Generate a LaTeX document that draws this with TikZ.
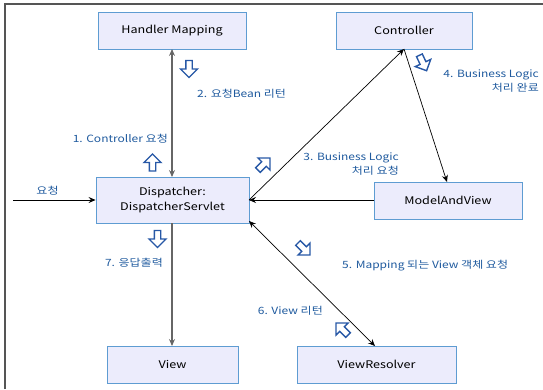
\documentclass[tikz,border=0pt]{standalone}
\usepackage{fontspec}
\setmainfont[FakeStretch=1.2]{Noto Sans CJK KR}
\usetikzlibrary{arrows.meta}
\definecolor{boxfill}{HTML}{ECECFC}
\definecolor{boxline}{HTML}{5E9CD2}
\definecolor{labelblue}{HTML}{1F5A9E}
\definecolor{hollowblue}{HTML}{2758A6}
\definecolor{framegray}{HTML}{555555}
\tikzset{
  compbox/.style={draw=boxline, fill=boxfill, line width=0.9pt, inner sep=0pt,
    font=\fontsize{10.5}{15}\selectfont, align=center},
  steplabel/.style={text=labelblue, inner sep=0pt, font=\fontsize{10}{14}\selectfont},
  flow/.style={-{Stealth[length=7pt,width=6pt,inset=2.5pt]}, line width=0.7pt, black},
  mainflow/.style={flow, draw=black!60, line width=1.1pt},
  hollow/.pic={
    \draw[hollowblue, line width=1.4pt, fill=white, line join=miter]
      (-3.2,8.5) -- (3.2,8.5) -- (3.2,0) -- (8.5,0) -- (0,-8.5) -- (-8.5,0) -- (-3.2,0) -- cycle;
  }
}
\begin{document}
\begin{tikzpicture}[x=1pt,y=-1pt]
\useasboundingbox (0,0) rectangle (543,389);
% outer frame (top and left edges)
\draw[framegray, line width=1.5pt] (5,389) -- (5,4) -- (543,4);

% components
\node[compbox, minimum width=148pt, minimum height=37pt] (hm) at (172,30.5) {Handler Mapping};
\node[compbox, minimum width=136pt, minimum height=37pt] (ctrl) at (404,30.5) {Controller};
\node[compbox, minimum width=153pt, minimum height=46pt] (ds) at (172.5,200) {Dispatcher:\\DispatcherServlet};
\node[compbox, minimum width=148pt, minimum height=37pt] (mav) at (448,200.5) {ModelAndView};
\node[compbox, minimum width=131pt, minimum height=37pt] (view) at (172.5,364.5) {View};
\node[compbox, minimum width=159pt, minimum height=37pt] (vr) at (376.5,364.5) {ViewResolver};

% connector end points
\coordinate (in) at (13,200);
\coordinate (hmb) at (172,49);
\coordinate (dst) at (172,177);
\coordinate (dsb) at (172,223);
\coordinate (dsr) at (249,200);
\coordinate (dsrl) at (249,221);
\coordinate (ctrlb) at (404,49);
\coordinate (mavt) at (447,182);
\coordinate (mavl) at (374,200);
\coordinate (vrt) at (375,346);
\coordinate (viewt) at (172,346);

% connectors
\draw[flow] (in) -- (ds.west);
\draw[mainflow, {Stealth[length=7pt,width=6pt,inset=2.5pt]}-{Stealth[length=7pt,width=6pt,inset=2.5pt]}] (hmb) -- (dst);
\draw[flow] (dsr) -- (ctrlb);
\draw[flow] (ctrlb) -- (mavt);
\draw[flow] (mavl) -- (dsr);
\draw[flow, {Stealth[length=7pt,width=6pt,inset=2.5pt]}-{Stealth[length=7pt,width=6pt,inset=2.5pt]}] (dsrl) -- (vrt);
\draw[mainflow] (dsb) -- (viewt);

% step labels
\node[steplabel, anchor=south] (lin) at (47.5,195) {요청};
\node[steplabel, anchor=west] (l2) at (197,94) {2. 요청Bean 리턴};
\node[steplabel, anchor=east] (l1) at (168,139) {1. Controller 요청};
\node[steplabel, anchor=east, align=right] (l3) at (399,164) {3. Business Logic\\처리 요청};
\node[steplabel, anchor=east, align=right] (l4) at (539,81) {4. Business Logic\\처리 완료};
\node[steplabel, anchor=west] (l5) at (342,266) {5. Mapping 되는 View 객체 요청};
\node[steplabel, anchor=east] (l6) at (323,311) {6. View 리턴};
\node[steplabel, anchor=east] (l7) at (163,263) {7. 응답출력};

% direction markers
\pic[rotate=180] at (189,69) {hollow};
\pic at (152.5,162.5) {hollow};
\pic[rotate=-45] at (264,164) {hollow};
\pic[rotate=-155] at (423,63) {hollow};
\pic[rotate=180] at (157.5,239) {hollow};
\pic[rotate=-135] at (304,249) {hollow};
\pic[rotate=45] at (342,329) {hollow};
\end{tikzpicture}
\end{document}
